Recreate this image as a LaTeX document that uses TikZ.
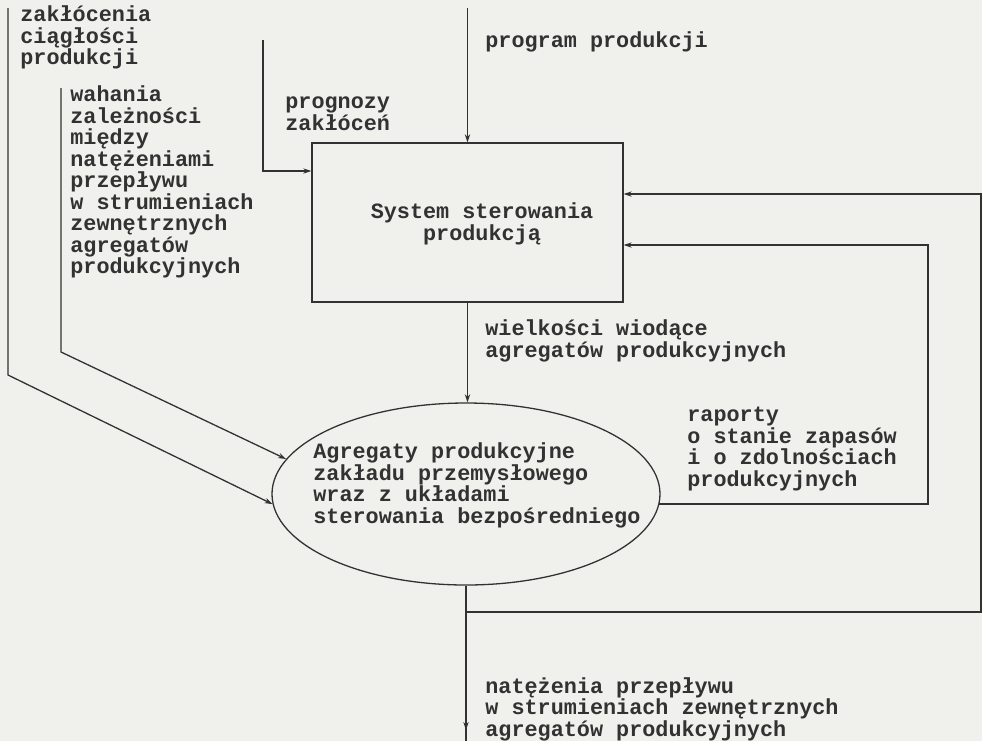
\documentclass[tikz,border=0pt]{standalone}
\usepackage{fontspec}
\setmonofont{Liberation Mono}
\usetikzlibrary{arrows.meta,shapes.geometric,decorations.markings}
\definecolor{paper}{RGB}{240,240,236}
\definecolor{ink}{RGB}{50,50,50}
\begin{document}
\begin{tikzpicture}[x=0.5pt,y=-0.5pt,
  line/.style={draw=ink,line width=0.65pt},
  arr/.style={line,-{Stealth[length=4pt,width=2.6pt]}},
  midarr/.style={line,postaction={decorate},decoration={markings,mark=at position #1 with {\arrow{Stealth[length=4pt,width=2.6pt]}}}},
  lbl/.style={text=ink,font=\ttfamily\bfseries\fontsize{10.9}{10.75}\selectfont,align=left,anchor=base west,inner sep=0pt},
  boxnode/.style={draw=ink,line width=0.65pt,minimum width=155.5pt,minimum height=79.5pt,inner sep=0pt},
  ellnode/.style={ellipse,draw=ink,line width=0.65pt,minimum width=194pt,minimum height=91pt,inner sep=0pt}]
\fill[paper] (0,0) rectangle (982,741);
\useasboundingbox (0,0) rectangle (982,741);

% main blocks
\node[boxnode] (box) at (467.5,222.5) {};
\node[lbl,anchor=center,align=center] (systxt) at (482,224) {System sterowania\\produkcją};
\node[ellnode] (ell) at (466,494) {};
% (base anchor = baseline of the last line)
\node[lbl] (elltxt) at (313,523) {Agregaty produkcyjne\\zakładu przemysłowego\\wraz z układami\\sterowania bezpośredniego};

% labels
\node[lbl] (zak) at (20,64.5) {zakłócenia\\ciągłości\\produkcji};
\node[lbl] (wah) at (70,273.5) {wahania\\zależności\\między\\natężeniami\\przepływu\\w strumieniach\\zewnętrznych\\agregatów\\produkcyjnych};
\node[lbl] (prog) at (285,130) {prognozy\\zakłóceń};
\node[lbl] (progr) at (485,47.5) {program produkcji};
\node[lbl] (wiel) at (485,357) {wielkości wiodące\\agregatów produkcyjnych};
\node[lbl] (rap) at (687,486) {raporty\\o stanie zapasów\\i o zdolnościach\\produkcyjnych};
\node[lbl] (nat) at (485,736) {natężenia przepływu\\w strumieniach zewnętrznych\\agregatów produkcyjnych};

% coordinates
\coordinate (a0) at (8,8);
\coordinate (a1) at (8,375);
\coordinate (b0) at (61,88);
\coordinate (b1) at (61,352);
\coordinate (p0) at (263,40);
\coordinate (p1) at (263,171);
\coordinate (q0) at (467.5,8);
\coordinate (r1) at (928,245);
\coordinate (f0) at (466,612);
\coordinate (f1) at (981,612);
\coordinate (f2) at (981,194);
\coordinate (outp) at (466,741);

% connectors
\draw[arr] (a0) -- (a1) -- (ell.183);
\draw[arr] (b0) -- (b1) -- (ell.169);
\draw[arr] (p0) -- (p1) -- (box.west |- p1);
\draw[arr] (q0) -- (box.north);
\draw[arr] (box.south) -- (box.south |- ell.north);
\draw[arr] (ell.-3) -| (r1) -- (box.east |- r1);
\draw[midarr=0.93] (ell.south) -- (outp);
\draw[arr] (f0) -- (f1) -- (f2) -- (box.east |- f2);
\end{tikzpicture}
\end{document}
